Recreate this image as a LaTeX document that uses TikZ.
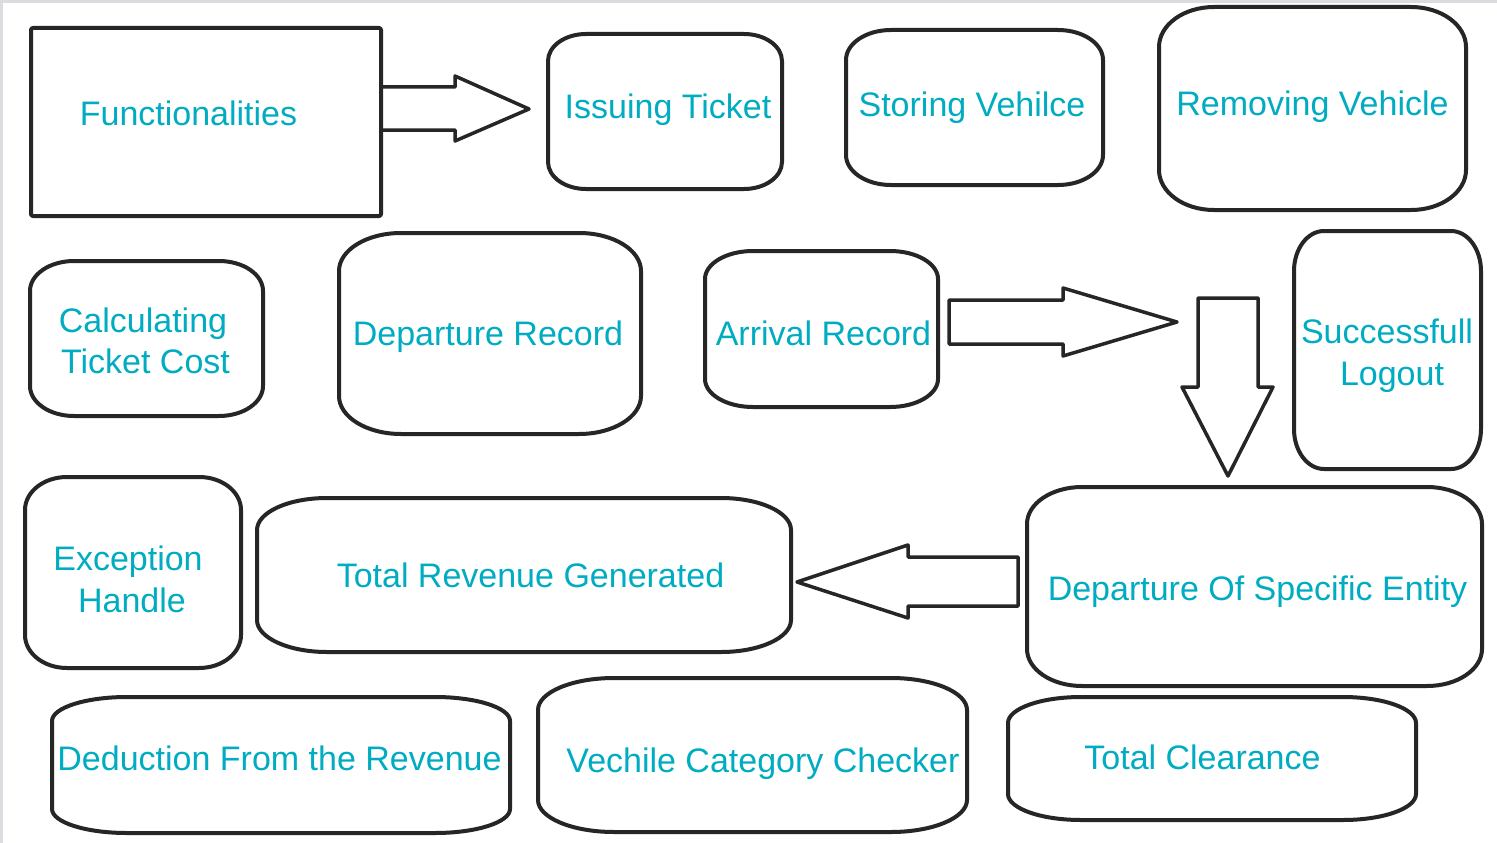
\documentclass[tikz,border=0pt]{standalone}
\usepackage{fontspec}
\setmainfont{Liberation Sans}
\usetikzlibrary{fit}
\definecolor{tealc}{RGB}{0,172,193}
\definecolor{linec}{RGB}{38,38,38}
\definecolor{framec}{RGB}{218,220,224}
\tikzset{
  boxline/.style={draw=linec, line width=4pt, line join=round},
  arrline/.style={draw=linec, line width=3.5pt, line join=round},
  lbl/.style={font=\fontsize{34}{41}\selectfont, text=tealc, anchor=base, inner sep=0pt, outer sep=0pt},
  bxfit/.style={inner sep=0pt, outer sep=0pt}
}
\newcommand\rrbox[7]{%
  \node[bxfit, fit={(#2,#3) (#4,#5)}] (#1) {};
  \draw[boxline] ([xshift=#6pt]#1.north west) -- ([xshift=-#6pt]#1.north east)
    arc[start angle=90,end angle=0,x radius=#6pt,y radius=#7pt]
    -- ([yshift=#7pt]#1.south east)
    arc[start angle=0,end angle=-90,x radius=#6pt,y radius=#7pt]
    -- ([xshift=#6pt]#1.south west)
    arc[start angle=270,end angle=180,x radius=#6pt,y radius=#7pt]
    -- ([yshift=-#7pt]#1.north west)
    arc[start angle=180,end angle=90,x radius=#6pt,y radius=#7pt] -- cycle;}
\begin{document}
\begin{tikzpicture}[x=1pt,y=-1pt]
\useasboundingbox[fill=white] (0,0) rectangle (1497,843);
\draw[framec, line width=3pt] (0,1.5) -- (1497,1.5);
\draw[framec, line width=3pt] (1.5,0) -- (1.5,843);

% Functionalities
\node[bxfit, fit={(31,28) (381,216)}] (fun) {};
\draw[boxline, rounded corners=2pt] (fun.north west) rectangle (fun.south east);
\node[lbl] (funt) at (188.5,125) {Functionalities};

% rounded boxes
\rrbox{iss}{548}{34}{782}{189}{38}{27}
\node[lbl] (isst) at (668,118) {Issuing Ticket};
\rrbox{sto}{846}{30}{1103}{185}{45}{30}
\node[lbl] (stot) at (972,117) {Storing Vehilce};
\rrbox{rem}{1159}{7}{1466}{210}{55}{40}
\node[lbl] (remt) at (1312.5,115) {Removing Vehicle};

\rrbox{cal}{30}{261}{263}{416}{44}{30}
\node[lbl] (calt1) at (143,332) {Calculating};
\node[lbl] (calt2) at (145.5,373) {Ticket Cost};
\rrbox{dep}{339}{233}{641}{434}{62}{38}
\node[lbl] (dept) at (488,345) {Departure Record};
\rrbox{arr}{705}{251}{938}{407}{48}{28}
\node[lbl] (arrt) at (823.5,345) {Arrival Record};
\rrbox{suc}{1294}{231}{1481}{469}{30}{40}
\node[lbl] (suct1) at (1387,343) {Successfull};
\node[lbl] (suct2) at (1392,385) {Logout};

\rrbox{exc}{25}{477}{241}{668}{42}{33}
\node[lbl] (exct1) at (128,570) {Exception};
\node[lbl] (exct2) at (132,612) {Handle};
\rrbox{rev}{257}{498}{791}{652}{70}{32}
\node[lbl] (revt) at (530.5,587) {Total Revenue Generated};
\rrbox{dse}{1027}{487}{1482}{686}{55}{37}
\node[lbl] (dset) at (1257.5,600) {Departure Of Specific Entity};

\rrbox{ded}{52}{697}{510}{833}{75}{24}
\node[lbl] (dedt) at (279.5,770) {Deduction From the Revenue};
\rrbox{vec}{538}{678}{967}{832}{76}{32}
\node[lbl] (vect) at (763,772) {Vechile Category Checker};
\rrbox{clr}{1008}{697}{1416}{820}{73}{26}
\node[lbl] (clrt) at (1202.5,769) {Total Clearance};

% block arrows
\draw[arrline] (382,87) -- (455,87) -- (455,76) -- (529,109) -- (455,141) -- (455,130) -- (382,130);
\draw[arrline] (949,300) -- (1063,300) -- (1063,288) -- (1177,322) -- (1063,356) -- (1063,344) -- (949,344) -- cycle;
\draw[arrline] (1198,298) -- (1258,298) -- (1258,387) -- (1273,387) -- (1228,476) -- (1182,387) -- (1198,387) -- cycle;
\draw[arrline] (1018,557) -- (908,557) -- (908,545) -- (797,582) -- (908,618) -- (908,606) -- (1018,606) -- cycle;
\end{tikzpicture}
\end{document}
